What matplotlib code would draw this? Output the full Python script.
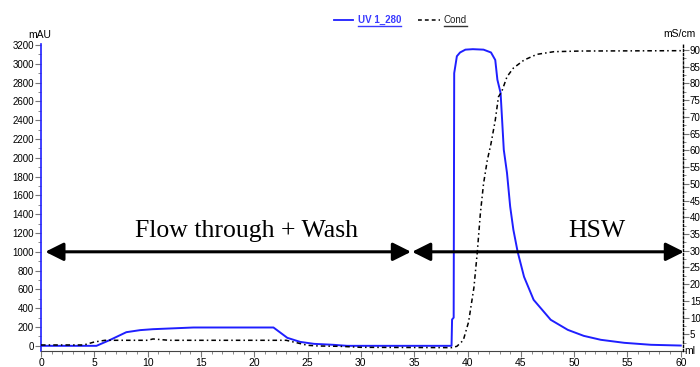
import numpy as np
import matplotlib.pyplot as plt
from matplotlib.ticker import MultipleLocator
from matplotlib.lines import Line2D

# UV 1_280 (mAU) vs volume (ml)
uv_ml = [0, 5.2, 6.5, 8.0, 9.3, 10.5, 14.3, 21.8, 23.1, 24.3, 25.6, 27.4, 28.7,
         38.5, 38.55, 38.7, 38.75, 39.0, 39.3, 39.8, 40.5, 41.5, 42.2, 42.6,
         42.8, 43.1, 43.4, 43.7, 44.0, 44.3, 44.7, 45.3, 46.2, 47.8, 49.4,
         50.9, 52.5, 54.7, 57.2, 60.0]
uv_mau = [0, 0, 64, 145, 167, 177, 195, 195, 85, 42, 21, 11, 0,
          0, 280, 300, 2900, 3080, 3120, 3150, 3155, 3150, 3120, 3040,
          2830, 2690, 2085, 1840, 1480, 1234, 1000, 734, 489, 277, 170,
          106, 64, 32, 11, 3]

# Cond (mS/cm) vs volume (ml)
cond_ml = [0, 4.0, 5.0, 6.0, 10.0, 10.5, 12.0, 23.0, 25.0, 26.0, 28.0, 30.0,
           38.5, 39.0, 39.6, 40.1, 40.6, 40.9, 41.2, 41.5, 41.85, 42.2, 42.6,
           42.9, 43.2, 43.7, 44.3, 45.3, 46.5, 48.1, 50.6, 60.0]
cond_ms = [1.8, 1.8, 2.7, 3.2, 3.2, 3.6, 3.2, 3.2, 1.7, 1.5, 1.4, 1.1,
           1.0, 1.4, 3.2, 8.7, 19, 29, 41, 50, 57, 62, 69,
           76, 77.5, 82, 84.6, 87, 88.7, 89.5, 89.7, 89.8]

fig = plt.figure(figsize=(7, 3.67), dpi=100)
ax = fig.add_axes([0.0586, 0.0436, 0.917, 0.8365])
ax2 = ax.twinx()

ax.plot(uv_ml, uv_mau, color='#1f1fff', lw=1.4, zorder=3)
ax2.plot(cond_ml, cond_ms, color='black', lw=1.1, linestyle=(0, (3, 2, 1, 2)))

ax.set_xlim(0, 60.2)
ax.set_ylim(-55, 3210)
ax2.set_ylim(0, 91.8)

ax.xaxis.set_major_locator(MultipleLocator(5))
ax.xaxis.set_minor_locator(MultipleLocator(1))
ax.yaxis.set_major_locator(MultipleLocator(200))
ax.yaxis.set_minor_locator(MultipleLocator(100))
ax2.set_yticks(np.arange(5, 95, 5))
ax2.yaxis.set_minor_locator(MultipleLocator(2.5))

for a in (ax, ax2):
    a.tick_params(which='both', direction='out', colors='#777777',
                  labelcolor='black', labelsize=7, pad=1)
    a.tick_params(which='major', length=4, width=0.8)
    a.tick_params(which='minor', length=2, width=0.6)
    for lab in a.get_xticklabels() + a.get_yticklabels():
        lab.set_fontfamily('Liberation Sans')
ax.tick_params(axis='x', labelsize=7.5, pad=1)

ax.spines['top'].set_visible(False)
ax2.spines['top'].set_visible(False)
ax.spines['left'].set_color('#1f1fff')
ax.spines['left'].set_linewidth(1.2)
ax2.spines['left'].set_visible(False)
ax2.spines['right'].set_linestyle((0, (1.5, 1.5)))
ax2.spines['right'].set_linewidth(1.0)
ax.spines['right'].set_visible(False)
ax2.spines['bottom'].set_visible(False)
ax.spines['bottom'].set_color('#444444')

# unit labels
fig.text(0.040, 0.896, 'mAU', fontfamily='Liberation Sans', fontsize=7.5)
fig.text(0.947, 0.900, 'mS/cm', fontfamily='Liberation Sans', fontsize=7.5)
fig.text(0.978, 0.036, 'ml', fontfamily='Liberation Sans', fontsize=7.5)

# region arrows
arrow_kw = dict(arrowstyle='<|-|>,head_length=1.1,head_width=0.55',
                color='black', lw=2.2, shrinkA=0, shrinkB=0)
ax.annotate('', xy=(34.7, 1000), xytext=(0.4, 1000), arrowprops=arrow_kw)
ax.annotate('', xy=(60.3, 1000), xytext=(34.8, 1000), arrowprops=arrow_kw,
            annotation_clip=False)
ax.text(19.25, 1160, 'Flow through + Wash', ha='center', va='baseline',
        fontfamily='Liberation Serif', fontsize=18.5)
ax.text(52.1, 1160, 'HSW', ha='center', va='baseline',
        fontfamily='Liberation Serif', fontsize=18.5)

# legend with underlined labels
fig.add_artist(Line2D([0.477, 0.504], [0.946, 0.946], color='#1f1fff', lw=1.3))
t1 = fig.text(0.511, 0.946, 'UV 1_280', color='#3a3aff', fontsize=7,
              fontfamily='Liberation Sans', va='center', fontweight='bold')
fig.add_artist(Line2D([0.597, 0.629], [0.946, 0.946], color='black', lw=1.1,
                      linestyle=(0, (2.5, 2))))
t2 = fig.text(0.634, 0.946, 'Cond', color='#222222', fontsize=7,
              fontfamily='Liberation Sans', va='center')
fig.canvas.draw()
r = fig.canvas.get_renderer()
for t, c in ((t1, '#3a3aff'), (t2, '#333333')):
    bb = t.get_window_extent(r).transformed(fig.transFigure.inverted())
    fig.add_artist(Line2D([bb.x0, bb.x1], [bb.y0 - 0.004, bb.y0 - 0.004],
                          color=c, lw=1.0))

fig.savefig('out.png', dpi=100)
